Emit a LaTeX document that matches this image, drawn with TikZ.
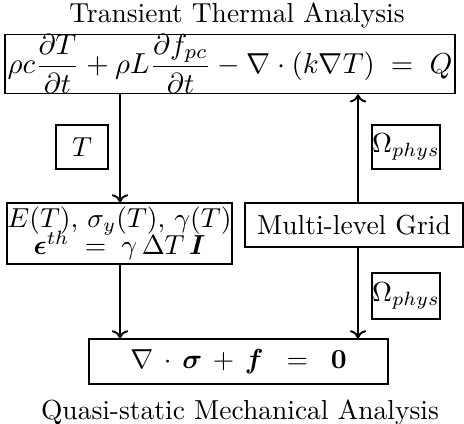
\documentclass[tikz,border=0pt]{standalone}
\usepackage{amsmath,bm,graphicx}
\usetikzlibrary{arrows.meta}
\newcommand\pxu{0.3636pt}
\begin{document}
\begin{tikzpicture}[x=0.3636pt,y=-0.3636pt,
  box/.style={draw,line width=0.4pt,inner sep=0pt,align=center},
  flow/.style={line width=0.7pt,-{To[length=3pt,width=6pt]}}]
\useasboundingbox (0,0) rectangle (464,424);
\node[anchor=base] (ttl) at (237,23) {Transient Thermal Analysis};
\node[box,minimum width=450*\pxu,minimum height=56*\pxu] (heat) at (230,64)
  {\scalebox{1.05}{$\displaystyle \rho c\frac{\partial T}{\partial t} + \rho L\frac{\partial f_{pc}}{\partial t} - \nabla\cdot(k\nabla T) \;=\; Q$}};
\node[box,minimum width=52*\pxu,minimum height=44*\pxu] (tlab) at (82,147) {$T$};
\node[box,minimum width=225*\pxu,minimum height=61*\pxu] (mat) at (119.5,233.5)
  {$E(T),\,\sigma_y(T),\,\gamma(T)$\\[-2pt] $\bm{\epsilon}^{th}\;=\;\gamma\,\Delta T\,\bm{I}$};
\node[box,minimum width=218*\pxu,minimum height=44*\pxu] (grid) at (354,225) {Multi-level Grid};
\node[box,minimum width=68*\pxu,minimum height=44*\pxu] (om1) at (406,147) {$\Omega_{phys}$};
\node[box,minimum width=68*\pxu,minimum height=46*\pxu] (om2) at (406,296) {$\Omega_{phys}$};
\node[box,minimum width=299*\pxu,minimum height=45*\pxu] (mech) at (238.5,361.5)
  {$\nabla\,\cdot\,\bm{\sigma}\,+\,\bm{f}\;\;=\;\;\mathbf{0}$};
\node[anchor=base] (mttl) at (240,419) {Quasi-static Mechanical Analysis};
\draw[flow] (heat.south -| 120,0) -- (mat.north -| 120,0);
\draw[flow] (mat.south -| 120,0) -- (mech.north -| 120,0);
\draw[flow] (grid.north -| 358,0) -- (heat.south -| 358,0);
\draw[flow] (grid.south -| 358,0) -- (mech.north -| 358,0);
\end{tikzpicture}
\end{document}
